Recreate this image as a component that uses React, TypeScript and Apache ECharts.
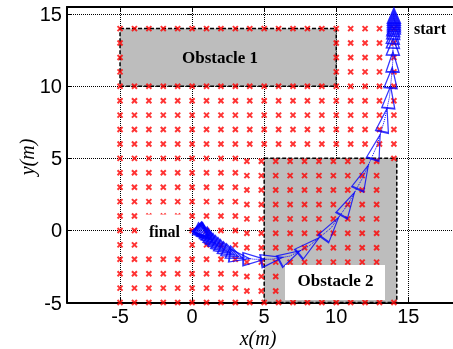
import React, { useEffect, useRef } from "react";
import * as echarts from "echarts";

// ---- data ----
const xTicks = [-5, 0, 5, 10, 15];
const yTicks = [-5, 0, 5, 10, 15];

// sample grid (red crosses)
const gridXs = [-5, -4, -3, -2, -1, 0, 1, 2, 3, 4, 5, 6, 7, 8, 9, 10, 11, 12, 13, 14];
const gridYs = [-5, -4, -3, -2, -1, 0, 1, 2, 3, 4, 5, 6, 7, 8, 9, 10, 11, 12, 13, 14];
const shiftedXs = [3.8, 4.8, 5.8, 6.8, 7.8, 8.8, 9.8, 10.8, 11.8, 12.8];
const shiftedYs = [-4.2, -3.2, -2.2, -1.2, -0.2, 0.8, 1.8, 2.8, 3.8, 4.8];

// obstacles [x0, y0, x1, y1]
const obstacle1 = [-5, 10, 10, 14];
const obstacle2 = [5, -5, 14.2, 5];

// trajectory (start -> final)
const pathX = [14.0, 14.0, 14.0, 14.0, 14.0, 14.0, 13.99, 13.98, 13.96, 13.95, 13.94, 13.92, 13.83, 13.69, 13.35, 12.79, 11.86, 10.82, 9.64, 8.11, 6.79, 5.54, 4.29,
  3.3, 3.0, 2.7, 2.45, 2.2, 2.0, 1.8, 1.62, 1.46, 1.32, 1.2, 1.1, 1.0, 0.92, 0.85, 0.8, 0.76, 0.73, 0.71, 0.7];
const pathY = [14.9, 14.75, 14.6, 14.45, 14.3, 14.15, 14.0, 13.8, 13.5, 13.2, 12.75, 11.7, 10.6, 9.25, 7.66, 5.8, 3.7, 1.83, 0.17, -1.08, -1.78, -2.0, -2.0,
  -1.85, -1.72, -1.58, -1.45, -1.3, -1.17, -1.03, -0.9, -0.78, -0.66, -0.56, -0.46, -0.38, -0.31, -0.25, -0.2, -0.16, -0.13, -0.12, -0.11];

function buildCrosses() {
  const pts: number[][] = [];
  const [o1x0, o1y0, o1x1, o1y1] = obstacle1;
  for (const x of gridXs) {
    for (const y of gridYs) {
      const inObs1 = x > o1x0 && x < o1x1 && y > o1y0 && y < o1y1;
      const inShifted = x >= 4 && y <= 5 && y > -5 && !(x === 14 && y === 5);
      if (!inObs1 && !inShifted) pts.push([x, y]);
    }
  }
  for (const x of shiftedXs) for (const y of shiftedYs) pts.push([x, y]);
  return pts;
}

function buildTriangles() {
  const out: any[] = [];
  for (let i = 0; i < pathX.length; i++) {
    let dx: number, dy: number;
    if (i === 0) {
      dx = pathX[0] - pathX[1];
      dy = pathY[0] - pathY[1];
    } else {
      dx = pathX[i - 1] - pathX[i];
      dy = pathY[i - 1] - pathY[i];
    }
    const step = Math.sqrt(dx * dx + dy * dy);
    const rot = (Math.atan2(-dx, dy) * 180) / Math.PI;
    const h = Math.max(15, Math.min(26, 14 + 6 * step));
    out.push({ value: [pathX[i], pathY[i]], symbolRotate: rot, symbolSize: [13, h] });
  }
  return out;
}

const XMIN = -8.68;
const XMAX = 18.1;

export default function App() {
  const ref = useRef<HTMLDivElement>(null);
  useEffect(() => {
    if (!ref.current) return;
    const chart = echarts.init(ref.current, undefined, { renderer: "svg" });
    const labelFont = "Liberation Sans";
    const serif = "Liberation Serif";
    const option: any = {
      animation: false,
      grid: { left: 67, right: 0, top: 7, bottom: 46.5, containLabel: false },
      xAxis: [
        {
          type: "value",
          min: XMIN,
          max: XMAX,
          splitNumber: 5,
          axisLine: { show: true, onZero: false, lineStyle: { color: "#000", width: 2 } },
          axisTick: { show: true, inside: true, length: 5, lineStyle: { color: "#000", width: 1 } },
          axisLabel: {
            formatter: (v: number) => (xTicks.includes(v) ? String(v) : ""),
            showMinLabel: false,
            showMaxLabel: false,
            fontSize: 20,
            color: "#000",
            fontFamily: labelFont,
            margin: 3,
          },
          splitLine: { show: true, lineStyle: { type: "dotted", color: "#000", width: 1 } },
        },
        {
          type: "value",
          position: "top",
          min: XMIN,
          max: XMAX,
          splitNumber: 5,
          axisLine: { show: true, onZero: false, lineStyle: { color: "#000", width: 2 } },
          axisTick: { show: true, inside: true, length: 5, lineStyle: { color: "#000", width: 1 } },
          axisLabel: { show: false },
          splitLine: { show: false },
        },
      ],
      yAxis: [
        {
          type: "value",
          min: -5,
          max: 15.5,
          interval: 5,
          axisLine: { show: true, onZero: false, lineStyle: { color: "#000", width: 2 } },
          axisTick: { show: true, inside: true, length: 5, lineStyle: { color: "#000", width: 1 } },
          axisLabel: {
            formatter: (v: number) => (yTicks.includes(v) ? String(v) : ""),
            showMaxLabel: false,
            fontSize: 20,
            color: "#000",
            fontFamily: labelFont,
            margin: 5,
          },
          splitLine: { show: true, lineStyle: { type: "dotted", color: "#000", width: 1 } },
        },
        {
          type: "value",
          position: "right",
          min: -5,
          max: 15.5,
          interval: 5,
          axisLine: { show: false },
          axisTick: { show: true, inside: true, length: 4, lineStyle: { color: "#000", width: 1 } },
          axisLabel: { show: false },
          splitLine: { show: false },
        },
      ],
      series: [
        {
          type: "custom",
          name: "obstacles",
          z: 1,
          silent: true,
          data: [obstacle1, obstacle2],
          renderItem: (params: any, api: any) => {
            const p0 = api.coord([api.value(0), api.value(1)]);
            const p1 = api.coord([api.value(2), api.value(3)]);
            return {
              type: "rect",
              shape: {
                x: Math.min(p0[0], p1[0]),
                y: Math.min(p0[1], p1[1]),
                width: Math.abs(p1[0] - p0[0]),
                height: Math.abs(p1[1] - p0[1]),
              },
              style: { fill: "#bdbdbd", stroke: "#000", lineWidth: 1.5, lineDash: [4, 2] },
            };
          },
        },
        {
          type: "scatter",
          name: "samples",
          z: 3,
          silent: true,
          data: buildCrosses(),
          symbol: "path://M0 0L10 10M10 0L0 10",
          symbolSize: 5,
          itemStyle: { color: "transparent", borderColor: "#ff0000", borderWidth: 2 },
        },
        {
          type: "line",
          name: "pathline",
          z: 4,
          silent: true,
          data: pathX.map((x, i) => [x, pathY[i]]),
          symbol: "none",
          lineStyle: { color: "#0000ff", width: 1, type: "dotted" },
        },
        {
          type: "scatter",
          name: "robot",
          z: 5,
          silent: true,
          data: buildTriangles(),
          symbol: "triangle",
          itemStyle: { color: "transparent", borderColor: "#0000ff", borderWidth: 1.5 },
        },
      ],
      graphic: [
        { type: "rect", z: 100, shape: { x: 141, y: 214.5, width: 44, height: 36 }, style: { fill: "#fff" } },
        {
          type: "text", z: 101, x: 164.5, y: 231.5,
          style: { text: "final", fill: "#000", font: `bold 16px "${serif}"`, align: "center", verticalAlign: "middle" },
        },
        { type: "rect", z: 100, shape: { x: 285, y: 265, width: 100, height: 35 }, style: { fill: "#fff" } },
        {
          type: "text", z: 101, x: 335.5, y: 280,
          style: { text: "Obstacle 2", fill: "#000", font: `bold 17px "${serif}"`, align: "center", verticalAlign: "middle" },
        },
        {
          type: "text", z: 101, x: 220, y: 57,
          style: { text: "Obstacle 1", fill: "#000", font: `bold 17px "${serif}"`, align: "center", verticalAlign: "middle" },
        },
        {
          type: "text", z: 101, x: 430, y: 28.5,
          style: { text: "start", fill: "#000", font: `bold 16px "${serif}"`, align: "center", verticalAlign: "middle" },
        },
        {
          type: "text", z: 101, x: 258, y: 338,
          style: { text: "x(m)", fill: "#000", font: `italic 20px "${serif}"`, align: "center", verticalAlign: "middle" },
        },
        {
          type: "text", z: 101, x: 27, y: 157, rotation: Math.PI / 2,
          style: { text: "y(m)", fill: "#000", font: `italic 20px "${serif}"`, align: "center", verticalAlign: "middle" },
        },
      ],
    };
    chart.setOption(option);
    return () => chart.dispose();
  }, []);
  return <div ref={ref} style={{ position: "fixed", left: 0, top: 0, width: 453, height: 349 }} />;
}
